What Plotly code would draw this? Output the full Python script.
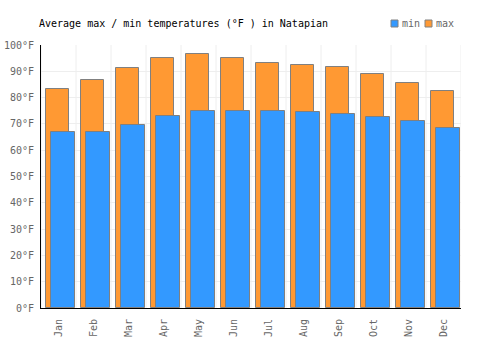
import plotly.graph_objects as go

months = ["Jan", "Feb", "Mar", "Apr", "May", "Jun", "Jul", "Aug", "Sep", "Oct", "Nov", "Dec"]
max_temps = [83.2, 86.6, 91.1, 95.1, 96.6, 95.1, 93.0, 92.3, 91.5, 88.8, 85.4, 82.4]
min_temps = [66.8, 66.8, 69.4, 72.9, 74.9, 74.9, 74.9, 74.4, 73.7, 72.5, 71.0, 68.3]
y_ticks = list(range(0, 101, 10))
y_labels = [f"{v}°F" for v in y_ticks]

font = "DejaVu Sans Mono"
MAX_COLOR = "#FF9933"
MIN_COLOR = "#3399FF"
fig = go.Figure()
fig.add_trace(go.Bar(
    x=months, y=max_temps, name="max",
    marker=dict(color=MAX_COLOR, line=dict(color="#808080", width=1)),
    width=0.66, offset=-0.357,
))
fig.add_trace(go.Bar(
    x=months, y=min_temps, name="min",
    marker=dict(color=MIN_COLOR, line=dict(color="#808080", width=1)),
    width=0.69, offset=-0.214,
))
fig.update_layout(
    width=500, height=350,
    margin=dict(l=41, r=39, t=45, b=42, autoexpand=False),
    barmode="overlay",
    plot_bgcolor="white", paper_bgcolor="white",
    font=dict(family=font, size=10, color="#666666"),
    title=dict(text="Average max / min temperatures (°F ) in Natapian",
               font=dict(family=font, size=10, color="#000000"),
               xref="container", yref="container", x=0.078, y=0.934,
               xanchor="left", yanchor="middle"),
    showlegend=False,
    bargap=0,
)
fig.update_xaxes(
    showgrid=False, showline=True, linecolor="#000000", linewidth=1,
    tickangle=-90, ticks="", ticklabelstandoff=6,
    tickfont=dict(family=font, size=10, color="#666666"),
    range=[-0.5, 11.5],
)
fig.update_yaxes(
    range=[0, 100], tickvals=y_ticks, ticktext=y_labels,
    showgrid=True, gridcolor="#eeeeee", showline=True, linecolor="#000000", linewidth=1,
    ticks="", ticklabelstandoff=4,
    tickfont=dict(family=font, size=10, color="#666666"), zeroline=False,
)
shapes = []
for i in range(13):
    shapes.append(dict(type="line", xref="x", yref="paper", x0=i - 0.5, x1=i - 0.5, y0=0, y1=1,
                       line=dict(color="#eeeeee", width=1), layer="below"))
# manual legend
legend_items = [("min", MIN_COLOR, 391), ("max", MAX_COLOR, 425)]
annotations = []
for name, color, px in legend_items:
    shapes.append(dict(type="rect", xref="paper", yref="paper",
                       x0=(px - 41) / 420, x1=(px + 7 - 41) / 420,
                       y0=(308 - 27) / 263, y1=(308 - 20) / 263,
                       fillcolor=color, line=dict(color="#808080", width=1)))
    annotations.append(dict(text=name, xref="paper", yref="paper",
                            x=(px + 9 - 41) / 420, y=(308 - 23.5) / 263,
                            xanchor="left", yanchor="middle", showarrow=False,
                            font=dict(family=font, size=10, color="#666666")))
fig.update_layout(shapes=shapes, annotations=annotations)
fig.write_html("out.html")
